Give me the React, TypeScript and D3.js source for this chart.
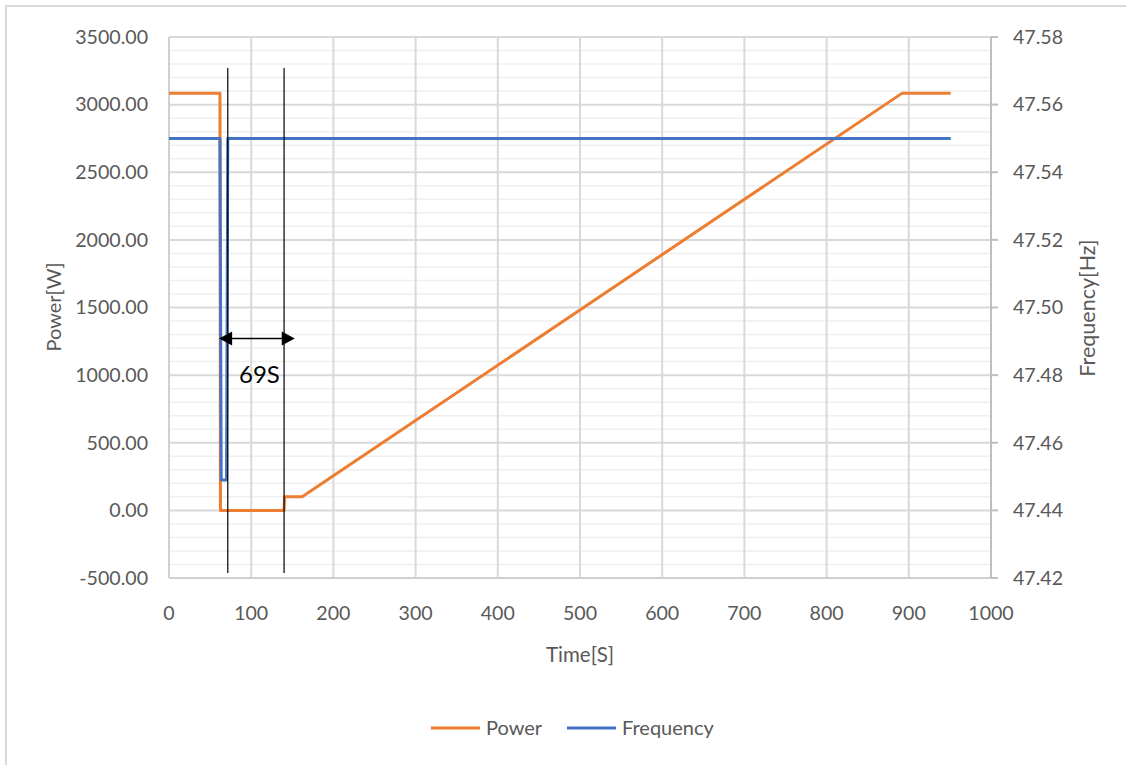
import React from "react";
import * as d3 from "d3";

const powerTime = [0, 62, 62.6, 140, 140.6, 162, 892, 951];
const powerValues = [3085, 3085, 0, 0, 100, 100, 3085, 3085];
const freqTime = [0, 62, 63.5, 70, 71.5, 951];
const freqValues = [47.55, 47.55, 47.449, 47.449, 47.55, 47.55];
const xTicks = [0, 100, 200, 300, 400, 500, 600, 700, 800, 900, 1000];
const leftTicks = [-500, 0, 500, 1000, 1500, 2000, 2500, 3000, 3500];
const rightTicks = [47.42, 47.44, 47.46, 47.48, 47.5, 47.52, 47.54, 47.56, 47.58];
const markerTimes = [71.5, 140];
const arrowSpan = [61, 153];
const arrowPower = 1270;
const annotation = { text: "69S", t: 110, p: 940 };
const seriesNames = ["Power", "Frequency"];

const W = 1126, H = 765;
const L = 169, R = 991, T = 37, B = 578;
const FONT = "Lato, 'Open Sans', sans-serif";
const ORANGE = "#ed7d31", BLUE = "#4472c4", LABEL = "#595959";

export default function App() {
  const x = d3.scaleLinear().domain([0, 1000]).range([L, R]);
  const yL = d3.scaleLinear().domain([-500, 3500]).range([B, T]);
  const yR = d3.scaleLinear().domain([47.42, 47.58]).range([B, T]);

  const powerLine = d3.line<number>().x((_, i) => x(powerTime[i])).y((d) => yL(d));
  const freqLine = d3.line<number>().x((_, i) => x(freqTime[i])).y((d) => yR(d));

  const minor: number[] = [];
  for (let i = 0; i < rightTicks.length - 1; i++) {
    for (let k = 1; k < 5; k++) minor.push(rightTicks[i] + (k * (rightTicks[i + 1] - rightTicks[i])) / 5);
  }

  const ay = yL(arrowPower);
  const ax1 = x(arrowSpan[0]);
  const ax2 = x(arrowSpan[1]);

  return (
    <svg width={W} height={H} style={{ position: "absolute", left: 0, top: 0, background: "#fff" }}>
      <rect x={0} y={0} width={W} height={H} fill="#fff" />
      <line x1={5} x2={W} y1={6} y2={6} stroke="#d9d9d9" strokeWidth={2} />
      <line x1={6} x2={6} y1={5} y2={H} stroke="#d9d9d9" strokeWidth={2} />

      {minor.map((v, i) => (
        <line key={"m" + i} x1={L} x2={R} y1={yR(v)} y2={yR(v)} stroke="#efefef" strokeWidth={1.5} />
      ))}
      {rightTicks.map((v, i) => (
        <line key={"g" + i} x1={L} x2={R} y1={yR(v)} y2={yR(v)} stroke="#d9d9d9" strokeWidth={2} />
      ))}
      {xTicks.map((v, i) => (
        <line key={"v" + i} x1={x(v)} x2={x(v)} y1={T} y2={B} stroke="#d9d9d9" strokeWidth={2} />
      ))}
      <line x1={L} x2={L} y1={T} y2={B} stroke="#d0d0d0" strokeWidth={2} />
      <line x1={L} x2={R} y1={B} y2={B} stroke="#d0d0d0" strokeWidth={2} />
      <line x1={R} x2={R} y1={T} y2={B} stroke="#bfbfbf" strokeWidth={2} />
      {rightTicks.map((v, i) => (
        <line key={"rt" + i} x1={R} x2={R + 7} y1={yR(v)} y2={yR(v)} stroke="#bfbfbf" strokeWidth={2} />
      ))}

      {leftTicks.map((v, i) => (
        <text key={"lt" + i} x={148} y={yL(v)} dy="0.35em" textAnchor="end" fontFamily={FONT} fontSize={19.6} fill={LABEL}>
          {v.toFixed(2)}
        </text>
      ))}
      {rightTicks.map((v, i) => (
        <text key={"rl" + i} x={1013} y={yR(v)} dy="0.35em" textAnchor="start" fontFamily={FONT} fontSize={19.6} fill={LABEL}>
          {v.toFixed(2)}
        </text>
      ))}
      {xTicks.map((v, i) => (
        <text key={"xl" + i} x={x(v)} y={620} textAnchor="middle" fontFamily={FONT} fontSize={19.6} fill={LABEL}>
          {v}
        </text>
      ))}

      <text x={580} y={662} textAnchor="middle" fontFamily={FONT} fontSize={20.5} fill={LABEL}>Time[S]</text>
      <text transform={`translate(61,307) rotate(-90)`} textAnchor="middle" fontFamily={FONT} fontSize={20} fill={LABEL}>Power[W]</text>
      <text transform={`translate(1095,308) rotate(-90)`} textAnchor="middle" fontFamily={FONT} fontSize={21.5} fill={LABEL}>Frequency[Hz]</text>

      <path d={powerLine(powerValues) || ""} fill="none" stroke={ORANGE} strokeWidth={3} strokeLinejoin="round" />
      <path d={freqLine(freqValues) || ""} fill="none" stroke={BLUE} strokeWidth={3} strokeLinejoin="round" />

      {markerTimes.map((t, i) => (
        <line key={"mk" + i} x1={x(t)} x2={x(t)} y1={68} y2={573} stroke="#000" strokeWidth={1.2} />
      ))}
      <line x1={ax1 + 10} x2={ax2 - 10} y1={ay} y2={ay} stroke="#000" strokeWidth={1.5} />
      <path d={`M${ax1},${ay} L${ax1 + 13},${ay - 7} L${ax1 + 13},${ay + 7} Z`} fill="#000" />
      <path d={`M${ax2},${ay} L${ax2 - 13},${ay - 7} L${ax2 - 13},${ay + 7} Z`} fill="#000" />
      <text x={x(annotation.t)} y={yL(annotation.p)} textAnchor="middle" fontFamily={FONT} fontSize={24} fill="#000">
        {annotation.text}
      </text>

      <line x1={431} x2={480} y1={728} y2={728} stroke={ORANGE} strokeWidth={3} />
      <text x={486} y={728} dy="0.35em" fontFamily={FONT} fontSize={20} fill={LABEL}>{seriesNames[0]}</text>
      <line x1={567} x2={616} y1={728} y2={728} stroke={BLUE} strokeWidth={3} />
      <text x={622} y={728} dy="0.35em" fontFamily={FONT} fontSize={20} fill={LABEL}>{seriesNames[1]}</text>
    </svg>
  );
}
